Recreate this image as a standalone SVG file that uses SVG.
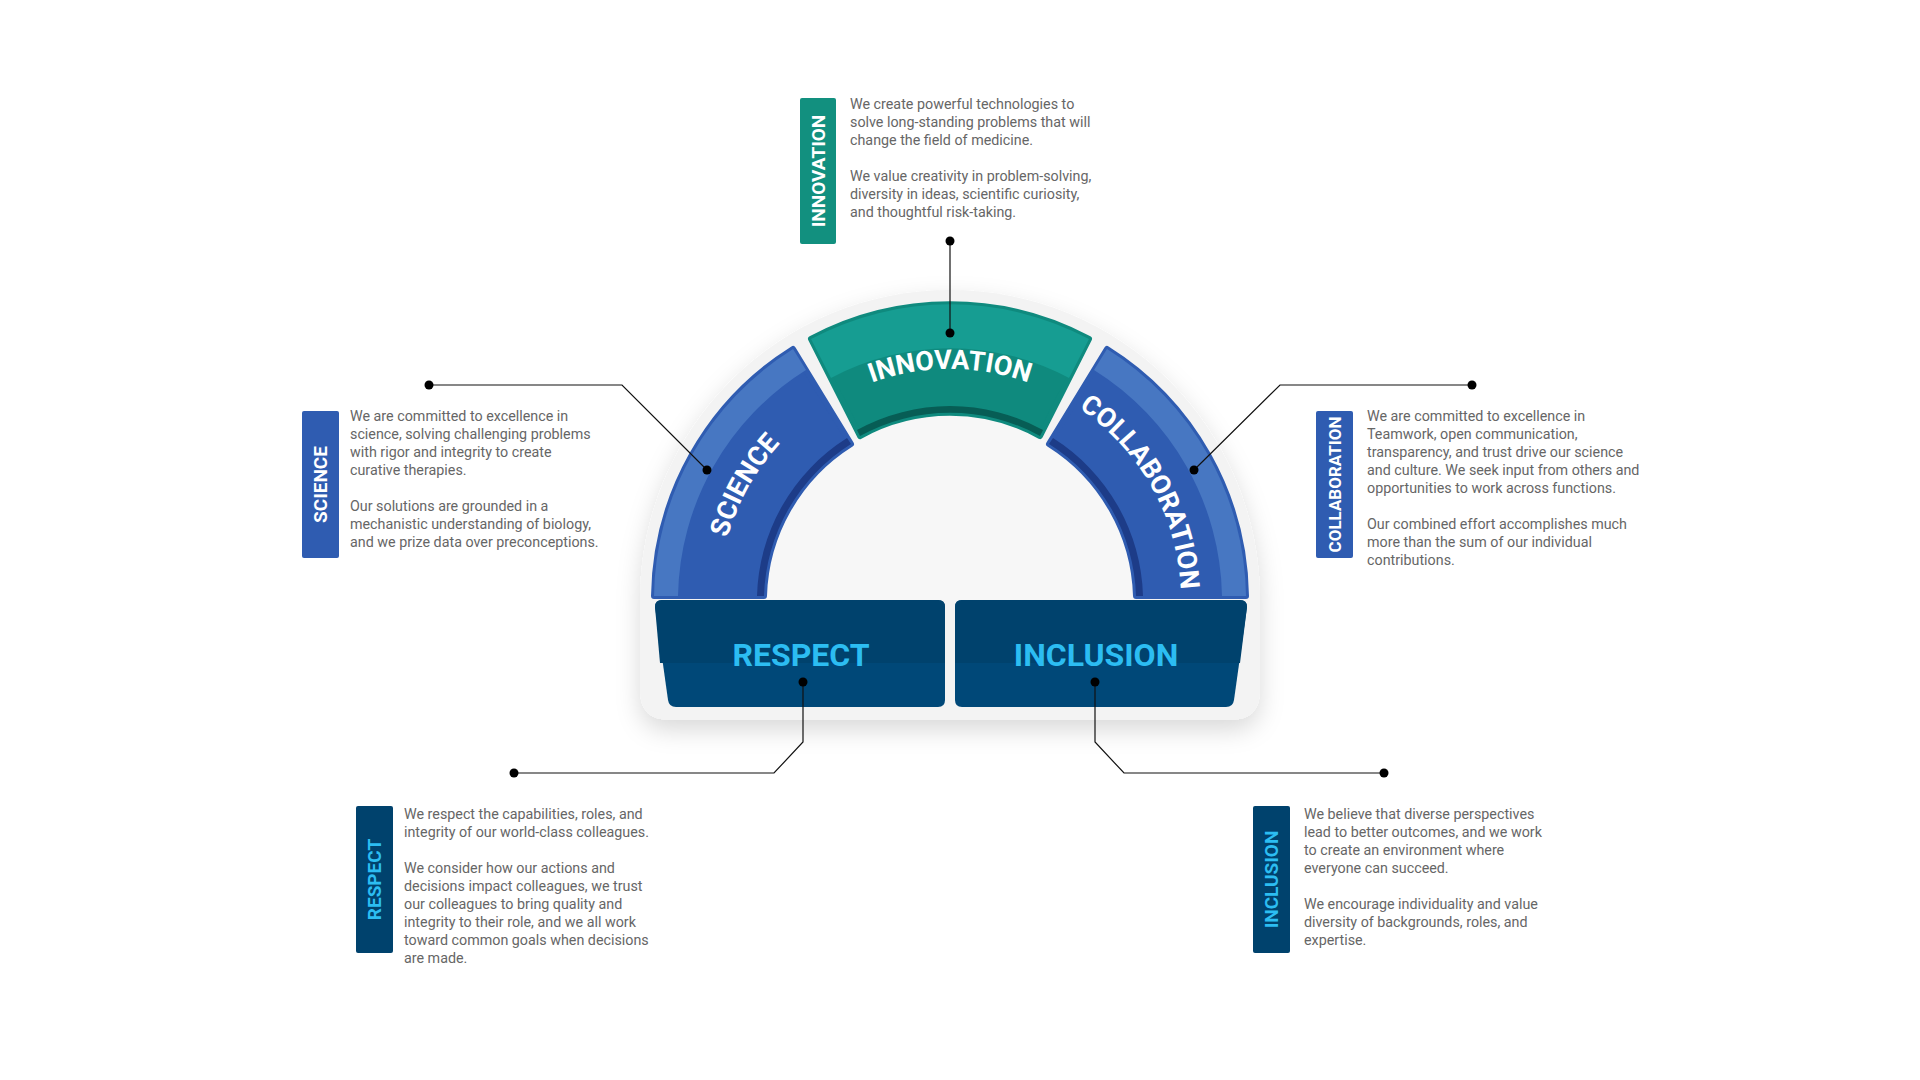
<svg xmlns="http://www.w3.org/2000/svg" width="1920" height="1080" viewBox="0 0 1920 1080">
<defs>
<style>
.p{font-family:Roboto,"Liberation Sans",sans-serif;font-size:14.3px;fill:#666}
.tab{font-family:Roboto,"Liberation Sans",sans-serif;font-weight:bold;font-size:19px;text-anchor:middle;dominant-baseline:central}
.arc{font-family:Roboto,"Liberation Sans",sans-serif;font-weight:bold;font-size:27px;fill:#fff;text-anchor:middle}
.box{font-family:Roboto,"Liberation Sans",sans-serif;font-weight:bold;font-size:32px;fill:#2cbdf2;text-anchor:middle}
.ln{fill:none;stroke:#111;stroke-width:1.2}
.dot{fill:#000}
</style>
<filter id="sh" x="-20%" y="-20%" width="140%" height="150%"><feDropShadow dx="0" dy="10" stdDeviation="12" flood-color="#000" flood-opacity="0.15"/></filter>
<path id="tp" d="M719,600 A231,231 0 0 1 1181,600"/>
</defs>
<rect width="1920" height="1080" fill="#fff"/>
<g id="base">
<path d="M640,600 A310,310 0 0 1 1260,600 L1260,690 Q1260,720 1230,720 L670,720 Q640,720 640,690 Z" fill="#f3f3f3" filter="url(#sh)"/>
<path d="M764,600 A186,186 0 0 1 1136,600 Z" fill="#f7f7f7"/>
</g>
<g id="science">
<path d="M654,596 A296,296 0 0 1 793,349 L851,444 A186,186 0 0 0 764,596 Z" fill="#2f5cb1" stroke="#2f5cb1" stroke-width="6" stroke-linejoin="round"/>
<path d="M654,596 A296,296 0 0 1 793,349 L806,370 A272,272 0 0 0 678,596 Z" fill="#4777c2"/>
<path d="M764,596 A186,186 0 0 1 851,444 L847,438 A193,193 0 0 0 757,596 Z" fill="#1d3c88"/>
<text class="arc"><textPath href="#tp" startOffset="16.2%">SCIENCE</textPath></text>
</g>
<g id="innovation">
<path d="M811,339 A296,296 0 0 1 1089,339 L1040,436 A186,186 0 0 0 860,436 Z" fill="#0f8a7e" stroke="#0f8a7e" stroke-width="6" stroke-linejoin="round"/>
<path d="M811,339 A296,296 0 0 1 1089,339 L1069,378 A253,253 0 0 0 831,378 Z" fill="#169d92"/>
<path d="M860,436 A186,186 0 0 1 1040,436 L1043,430 A193,193 0 0 0 857,430 Z" fill="#075d55"/>
<text class="arc"><textPath href="#tp" startOffset="50%">INNOVATION</textPath></text>
</g>
<g id="collaboration">
<path d="M1246,596 A296,296 0 0 0 1107,349 L1049,444 A186,186 0 0 1 1136,596 Z" fill="#2f5cb1" stroke="#2f5cb1" stroke-width="6" stroke-linejoin="round"/>
<path d="M1246,596 A296,296 0 0 0 1107,349 L1094,370 A272,272 0 0 1 1222,596 Z" fill="#4777c2"/>
<path d="M1136,596 A186,186 0 0 0 1049,444 L1053,438 A193,193 0 0 1 1143,596 Z" fill="#1d3c88"/>
<text class="arc"><textPath href="#tp" startOffset="83.7%">COLLABORATION</textPath></text>
</g>
<g id="respect">
<path d="M662,600 L938,600 Q945,600 945,607 L945,700 Q945,707 938,707 L676,707 Q669,707 668,700 L655,607 Q655,600 662,600 Z" fill="#004878"/>
<path d="M662,600 L938,600 Q945,600 945,607 L945,663 L660,663 L655,607 Q655,600 662,600 Z" fill="#00426d"/>
<text class="box" x="801" y="666">RESPECT</text>
</g>
<g id="inclusion">
<path d="M962,600 L1240,600 Q1247,600 1247,607 L1234,700 Q1233,707 1226,707 L962,707 Q955,707 955,700 L955,607 Q955,600 962,600 Z" fill="#004878"/>
<path d="M962,600 L1240,600 Q1247,600 1247,607 L1240,663 L955,663 L955,607 Q955,600 962,600 Z" fill="#00426d"/>
<text class="box" x="1096" y="666">INCLUSION</text>
</g>
<g id="connectors">
<path class="ln" d="M950,241 V333"/>
<path class="ln" d="M429,385 H622 L707,470"/>
<path class="ln" d="M1472,385 H1280 L1194,470"/>
<path class="ln" d="M803,682 V742 L774,773 H514"/>
<path class="ln" d="M1095,682 V742 L1124,773 H1384"/>
<g class="dot">
<circle cx="950" cy="241" r="4.5"/><circle cx="950" cy="333" r="4.5"/>
<circle cx="429" cy="385" r="4.5"/><circle cx="707" cy="470" r="4.5"/>
<circle cx="1472" cy="385" r="4.5"/><circle cx="1194" cy="470" r="4.5"/>
<circle cx="803" cy="682" r="4.5"/><circle cx="514" cy="773" r="4.5"/>
<circle cx="1095" cy="682" r="4.5"/><circle cx="1384" cy="773" r="4.5"/>
</g>
</g>
<g id="innovation-label">
<rect x="800" y="98" width="36" height="146" rx="2" fill="#12907f"/>
<text class="tab" fill="#fff" transform="translate(818,171) rotate(-90)">INNOVATION</text>
<text class="p" x="850"><tspan y="109">We create powerful technologies to</tspan><tspan x="850" y="127">solve long-standing problems that will</tspan><tspan x="850" y="145">change the field of medicine.</tspan><tspan x="850" y="181">We value creativity in problem-solving,</tspan><tspan x="850" y="199">diversity in ideas, scientific curiosity,</tspan><tspan x="850" y="217">and thoughtful risk-taking.</tspan></text>
</g>
<g id="science-label">
<rect x="302" y="411" width="37" height="147" rx="2" fill="#2f5cb1"/>
<text class="tab" fill="#fff" transform="translate(320.5,484.5) rotate(-90)">SCIENCE</text>
<text class="p" x="350"><tspan y="421">We are committed to excellence in</tspan><tspan x="350" y="439">science, solving challenging problems</tspan><tspan x="350" y="457">with rigor and integrity to create</tspan><tspan x="350" y="475">curative therapies.</tspan><tspan x="350" y="511">Our solutions are grounded in a</tspan><tspan x="350" y="529">mechanistic understanding of biology,</tspan><tspan x="350" y="547">and we prize data over preconceptions.</tspan></text>
</g>
<g id="collaboration-label">
<rect x="1316" y="411" width="37" height="147" rx="2" fill="#2f5cb1"/>
<text class="tab" fill="#fff" style="font-size:17px" transform="translate(1334.5,484.5) rotate(-90)">COLLABORATION</text>
<text class="p" x="1367"><tspan y="421">We are committed to excellence in</tspan><tspan x="1367" y="439">Teamwork, open communication,</tspan><tspan x="1367" y="457">transparency, and trust drive our science</tspan><tspan x="1367" y="475">and culture. We seek input from others and</tspan><tspan x="1367" y="493">opportunities to work across functions.</tspan><tspan x="1367" y="529">Our combined effort accomplishes much</tspan><tspan x="1367" y="547">more than the sum of our individual</tspan><tspan x="1367" y="565">contributions.</tspan></text>
</g>
<g id="respect-label">
<rect x="356" y="806" width="37" height="147" rx="2" fill="#00426d"/>
<text class="tab" fill="#2cbdf2" transform="translate(374.5,879.5) rotate(-90)">RESPECT</text>
<text class="p" x="404"><tspan y="819">We respect the capabilities, roles, and</tspan><tspan x="404" y="837">integrity of our world-class colleagues.</tspan><tspan x="404" y="873">We consider how our actions and</tspan><tspan x="404" y="891">decisions impact colleagues, we trust</tspan><tspan x="404" y="909">our colleagues to bring quality and</tspan><tspan x="404" y="927">integrity to their role, and we all work</tspan><tspan x="404" y="945">toward common goals when decisions</tspan><tspan x="404" y="963">are made.</tspan></text>
</g>
<g id="inclusion-label">
<rect x="1253" y="806" width="37" height="147" rx="2" fill="#00426d"/>
<text class="tab" fill="#2cbdf2" transform="translate(1271.5,879.5) rotate(-90)">INCLUSION</text>
<text class="p" x="1304"><tspan y="819">We believe that diverse perspectives</tspan><tspan x="1304" y="837">lead to better outcomes, and we work</tspan><tspan x="1304" y="855">to create an environment where</tspan><tspan x="1304" y="873">everyone can succeed.</tspan><tspan x="1304" y="909">We encourage individuality and value</tspan><tspan x="1304" y="927">diversity of backgrounds, roles, and</tspan><tspan x="1304" y="945">expertise.</tspan></text>
</g>
</svg>
